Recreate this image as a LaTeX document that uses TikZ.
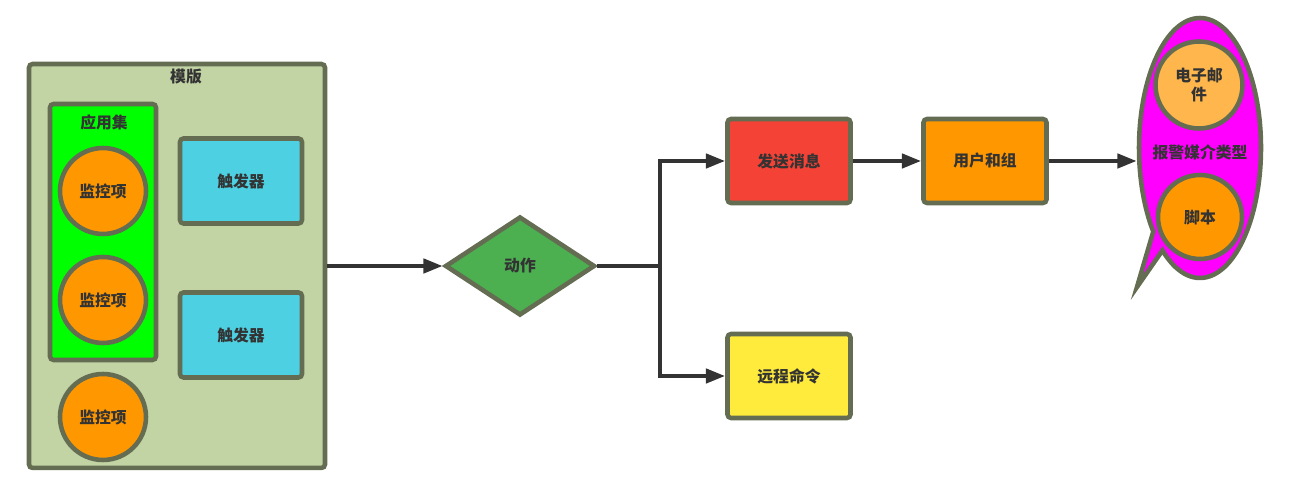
\documentclass[tikz,border=0pt]{standalone}
\usepackage{fontspec}
\newfontfamily\cjk{Noto Sans CJK SC}
\usetikzlibrary{shapes.geometric,shapes.callouts,arrows.meta}
\definecolor{edgegray}{HTML}{646C52}
\definecolor{textgray}{HTML}{333333}
\definecolor{arrowgray}{HTML}{333333}
\definecolor{tplgreen}{HTML}{C2D4A4}
\definecolor{setgreen}{HTML}{00FF00}
\definecolor{trigcyan}{HTML}{4DD0E1}
\definecolor{actgreen}{HTML}{4CAF50}
\definecolor{sendred}{HTML}{F44336}
\definecolor{cmdyellow}{HTML}{FFEB3B}
\definecolor{itemorange}{HTML}{FF9800}
\definecolor{mailorange}{HTML}{FFB74D}
\definecolor{mediapink}{HTML}{FF00FF}

\begin{document}
\begin{tikzpicture}[x=0.02cm,y=-0.02cm,
  font=\cjk\bfseries\fontsize{9}{11}\selectfont, text=textgray,
  box/.style={draw=edgegray,line width=2.6pt,rounded corners=2pt,inner sep=0pt},
  item/.style={circle,draw=edgegray,line width=2.6pt,fill=itemorange,minimum size=1.72cm,inner sep=0pt},
  conn/.style={draw=arrowgray,line width=2.4pt,-{Triangle[length=11pt,width=8pt]}}]
  \useasboundingbox (0,0) rectangle (1292,502);

  % template
  \node[box,fill=tplgreen,minimum width=5.92cm,minimum height=8.08cm] (tpl) at (177,266) {};
  \node (tpltitle) at (186,77) {模版};
  \node[box,fill=setgreen,minimum width=2.12cm,minimum height=5.12cm] (appset) at (103,232) {};
  \node (settitle) at (104,122) {应用集};
  \foreach \y/\n in {191/1,300/2,417/3}
    \node[item] (mon\n) at (103,\y) {监控项};
  \foreach \y/\n in {181/1,335/2}
    \node[box,fill=trigcyan,minimum width=2.44cm,minimum height=1.7cm] (trig\n) at (241,\y) {触发器};

  % action
  \node[diamond,draw=edgegray,line width=2.6pt,fill=actgreen,inner sep=0pt,
        minimum width=3cm,minimum height=1.98cm] (act) at (520,266) {动作};
  \node[box,fill=sendred,minimum width=2.46cm,minimum height=1.68cm] (send) at (789,161) {发送消息};
  \node[box,fill=cmdyellow,minimum width=2.46cm,minimum height=1.68cm] (remote) at (789,376) {远程命令};
  \node[box,fill=itemorange,minimum width=2.46cm,minimum height=1.68cm] (users) at (985,161) {用户和组};

  % media types
  \node[ellipse callout,draw=edgegray,line width=2.6pt,fill=mediapink,inner sep=0pt,
        minimum width=2.44cm,minimum height=5.2cm,callout pointer arc=12,
        callout absolute pointer={(1137,287)}] (media) at (1200,148) {};
  \node (mediatitle) at (1200,152) {报警媒介类型};
  \node[item,fill=mailorange,minimum size=1.74cm,align=center] (mail) at (1199,85) {电子邮\\件};
  \node[item,minimum size=1.68cm] (script) at (1200,217) {脚本};

  % connectors
  \coordinate (fork) at (660,266);
  \draw[conn] (tpl.east) -- (act.west);
  \draw[draw=arrowgray,line width=2.4pt] (act.east) -- (fork);
  \draw[conn] (fork) |- (send.west);
  \draw[conn] (fork) |- (remote.west);
  \draw[conn] (send.east) -- (users.west);
  \draw[conn] (users.east) -- (users.east -| media.west);
\end{tikzpicture}
\end{document}
